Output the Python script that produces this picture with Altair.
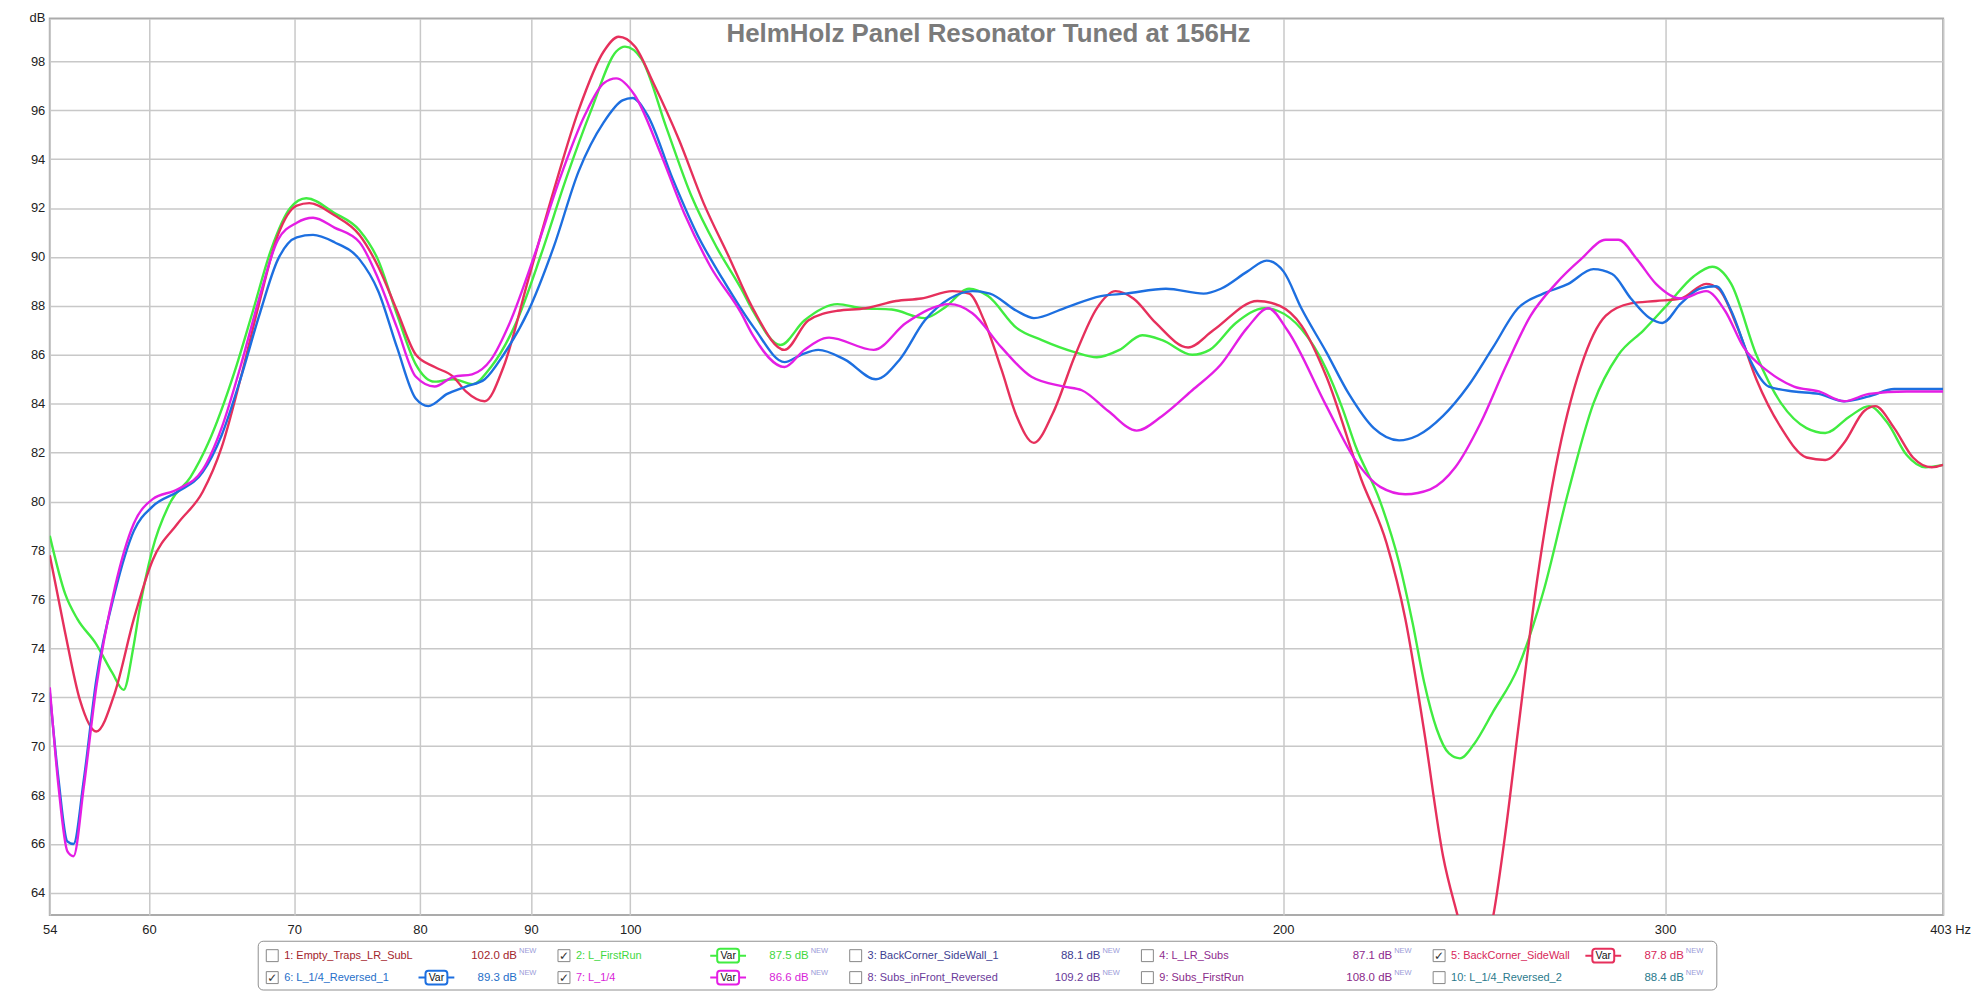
import altair as alt
import pandas as pd

TITLE = "HelmHolz Panel Resonator Tuned at 156Hz"
x_ticks = [54, 60, 70, 80, 90, 100, 200, 300, 403]
y_ticks = list(range(64, 100, 2))

series_names = ["2: L_FirstRun", "5: BackCorner_SideWall", "6: L_1/4_Reversed_1", "7: L_1/4"]
series_colors = ["#41ec41", "#e6305c", "#1d6fe0", "#e41ee4"]

# (Hz, dB) readings per measurement
green = [(54.0, 78.6), (54.9, 76.2), (55.6, 75.2), (56.7, 74.2), (57.7, 73.0), (58.4, 72.3), (59.0, 74.0),
         (59.4, 75.6), (60.2, 78.0), (61.4, 80.0), (62.7, 81.0), (63.9, 82.4), (65.7, 85.3), (67.0, 87.8),
         (68.3, 90.3), (69.7, 92.0), (70.9, 92.4), (73.05, 91.8), (75.0, 91.1), (76.5, 89.9), (78.1, 87.6),
         (79.65, 85.6), (81.25, 84.9), (82.9, 85.0), (84.55, 84.8), (86.26, 85.5), (88.58, 87.3), (90.97, 90.1),
         (93.42, 93.2), (95.94, 96.0), (98.52, 98.4), (99.44, 98.6), (101.2, 98.1), (103.9, 95.3), (106.7, 92.5),
         (109.6, 90.4), (112.5, 88.7), (113.9, 87.8), (117.3, 86.4), (120.3, 87.4), (124.6, 88.07), (127.9, 87.9),
         (132.0, 87.85), (136.7, 87.5), (139.5, 87.9), (143.3, 88.7), (146.2, 88.4), (150.7, 87.1), (154.8, 86.6),
         (160.4, 86.1), (164.1, 85.9), (168.1, 86.2), (172.2, 86.8), (175.9, 86.6), (181.6, 86.0), (185.0, 86.2),
         (190.2, 87.3), (196.1, 87.9), (198.8, 87.8), (203.9, 87.05), (209.4, 85.4), (213.0, 83.8), (215.9, 82.3),
         (221.7, 80.0), (226.2, 77.5), (229.5, 75.0), (232.3, 72.6), (235.4, 70.7), (238.5, 69.7), (241.3, 69.5),
         (245.0, 70.1), (249.9, 71.4), (256.6, 73.2), (263.6, 76.3), (270.7, 80.4), (278.0, 84.0), (285.5, 86.0),
         (293.2, 87.0), (301.1, 88.1), (309.2, 89.2), (315.4, 89.6), (321.8, 88.9), (330.5, 86.0), (339.4, 84.0),
         (348.6, 83.0), (355.6, 82.8), (365.2, 83.5), (372.5, 83.9), (380.0, 83.2), (387.7, 81.9), (395.5, 81.4),
         (403.0, 81.5)]

red = [(54.0, 77.8), (54.87, 74.7), (55.75, 71.9), (56.73, 70.6), (57.87, 72.2), (59.04, 75.2), (60.23, 77.6),
       (61.85, 79.1), (63.52, 80.4), (64.8, 82.2), (66.11, 85.0), (67.44, 88.1), (68.8, 90.9), (70.19, 92.1),
       (71.13, 92.2), (73.05, 91.7), (75.02, 90.9), (76.53, 89.6), (78.07, 87.8), (79.65, 86.0), (81.25, 85.5),
       (82.88, 85.1), (83.99, 84.5), (85.69, 84.1), (87.41, 85.5), (89.76, 89.1), (92.19, 92.7), (94.67, 96.0),
       (97.22, 98.4), (98.78, 99.0), (100.5, 98.6), (102.5, 97.1), (105.3, 94.8), (108.1, 92.2), (111.05, 90.0),
       (113.9, 87.9), (117.8, 86.2), (120.8, 87.4), (124.6, 87.8), (128.4, 87.9), (132.6, 88.2), (136.2, 88.3),
       (140.8, 88.6), (143.3, 88.5), (145.6, 87.4), (148.3, 85.4), (150.7, 83.5), (153.5, 82.4), (156.6, 83.6),
       (160.4, 86.0), (164.1, 87.9), (167.4, 88.6), (170.6, 88.3), (174.7, 87.3), (180.8, 86.3), (185.7, 87.0),
       (194.6, 88.2), (199.3, 88.0), (203.9, 87.2), (209.4, 85.1), (217.3, 80.9), (223.2, 78.3), (227.7, 75.2),
       (232.3, 70.6), (237.0, 65.5), (240.8, 63.0), (245.0, 60.5), (249.9, 63.0), (253.25, 66.5), (256.6, 70.6),
       (261.8, 76.7), (267.1, 81.4), (274.3, 85.5), (281.7, 87.6), (289.3, 88.1), (297.1, 88.2), (305.1, 88.3),
       (313.35, 88.9), (317.5, 88.7), (324.0, 87.1), (330.5, 85.0), (339.4, 83.0), (348.6, 81.8), (355.6, 81.7),
       (362.8, 82.4), (370.6, 83.7), (375.0, 83.9), (382.6, 83.0), (390.3, 81.8), (398.1, 81.4), (403.0, 81.5)]

blue = [(54.0, 72.2), (54.51, 68.6), (55.02, 66.1), (55.38, 66.0), (55.98, 68.6), (56.73, 72.7), (57.87, 76.3),
        (59.04, 78.8), (60.23, 79.8), (61.85, 80.4), (63.52, 81.2), (64.8, 82.7), (66.11, 85.0), (67.44, 87.6),
        (68.8, 89.9), (70.19, 90.8), (71.41, 90.9), (73.05, 90.6), (75.02, 89.9), (76.53, 88.6), (78.07, 86.3),
        (79.65, 84.2), (80.71, 83.9), (82.34, 84.4), (83.99, 84.7), (85.69, 85.0), (87.41, 86.0), (89.76, 87.8),
        (92.19, 90.4), (94.67, 93.5), (97.22, 95.5), (99.18, 96.4), (100.24, 96.5), (101.85, 95.8), (104.6, 93.2),
        (107.4, 90.9), (110.3, 89.1), (114.05, 87.1), (117.8, 85.7), (119.9, 86.0), (122.1, 86.2), (125.6, 85.8),
        (129.8, 85.0), (133.1, 85.8), (136.7, 87.4), (140.4, 88.3), (143.8, 88.6), (146.5, 88.5), (150.7, 87.8),
        (153.5, 87.5), (158.5, 87.9), (164.8, 88.4), (169.2, 88.5), (176.6, 88.7), (183.8, 88.5), (187.2, 88.7),
        (192.5, 89.4), (196.5, 89.85), (200.1, 89.4), (203.9, 87.9), (209.4, 86.1), (214.45, 84.4), (220.2, 83.0),
        (226.2, 82.5), (230.7, 82.7), (237.0, 83.5), (243.3, 84.7), (249.9, 86.3), (256.6, 87.9), (263.6, 88.5),
        (270.7, 88.9), (278.0, 89.5), (283.6, 89.3), (289.3, 88.3), (295.1, 87.5), (299.1, 87.3), (305.1, 88.1),
        (311.3, 88.7), (316.7, 88.8), (321.8, 87.8), (328.3, 85.8), (334.9, 84.7), (344.0, 84.5), (353.2, 84.4),
        (362.8, 84.1), (372.5, 84.3), (382.6, 84.6), (403.0, 84.6)]

magenta = [(54.0, 72.4), (54.51, 68.3), (55.02, 65.7), (55.38, 65.5), (55.98, 68.3), (56.73, 72.4), (57.87, 76.5),
           (59.04, 79.1), (60.23, 80.1), (61.85, 80.5), (63.52, 81.3), (64.8, 83.0), (66.11, 85.5), (67.44, 88.3),
           (68.8, 90.7), (70.19, 91.4), (71.41, 91.6), (73.05, 91.2), (75.02, 90.6), (76.53, 89.1), (78.07, 87.1),
           (79.65, 85.1), (81.25, 84.7), (82.88, 85.1), (84.55, 85.2), (86.26, 85.8), (87.99, 87.3), (90.36, 90.1),
           (92.8, 93.2), (95.3, 95.8), (97.22, 97.1), (98.52, 97.3), (100.5, 96.6), (103.2, 94.3), (106.0, 91.7),
           (108.9, 89.6), (112.5, 87.7), (113.9, 86.8), (117.8, 85.5), (120.3, 86.2), (123.5, 86.7), (129.5, 86.2),
           (134.0, 87.3), (140.4, 88.07), (143.8, 87.7), (148.3, 86.3), (153.1, 85.1), (158.5, 84.7), (161.5, 84.55),
           (166.1, 83.7), (171.2, 82.9), (175.9, 83.5), (181.6, 84.55), (187.2, 85.6), (192.5, 87.1), (196.9, 87.9),
           (200.9, 87.0), (209.4, 83.9), (215.9, 81.7), (221.7, 80.6), (227.7, 80.3), (233.8, 80.5), (240.1, 81.4),
           (246.6, 83.2), (253.25, 85.5), (260.1, 87.6), (267.1, 88.9), (274.3, 89.9), (281.7, 90.7), (285.5, 90.7),
           (291.2, 89.9), (297.1, 88.9), (305.1, 88.3), (313.35, 88.6), (319.7, 87.8), (326.1, 86.3), (334.9, 85.3),
           (344.0, 84.7), (353.2, 84.5), (362.8, 84.1), (372.5, 84.4), (387.7, 84.5), (403.0, 84.5)]

legend_names = ["1: Empty_Traps_LR_SubL", "2: L_FirstRun", "3: BackCorner_SideWall_1", "4: L_LR_Subs",
                "5: BackCorner_SideWall", "6: L_1/4_Reversed_1", "7: L_1/4", "8: Subs_inFront_Reversed",
                "9: Subs_FirstRun", "10: L_1/4_Reversed_2"]
legend_values = ["102.0", "87.5", "88.1", "87.1", "87.8", "89.3", "86.6", "109.2", "108.0", "88.4"]
legend_checked = [False, True, False, False, True, True, True, False, False, False]
legend_text_colors = ["#a3242c", "#3fd83f", "#3d3d90", "#8e2a8e", "#d8285a",
                      "#1f6fc9", "#d81fd8", "#6a3a9a", "#8a2a8a", "#2a7a8c"]
legend_line_colors = ["#a3242c", "#41ec41", "#3d3d90", "#8e2a8e", "#e6305c",
                      "#1d6fe0", "#e41ee4", "#6a3a9a", "#8a2a8a", "#2a7a8c"]

rows = []
for name, pts in zip(series_names, [green, red, blue, magenta]):
    for hz, db in pts:
        rows.append({"series": name, "hz": hz, "db": db})
df = pd.DataFrame(rows)

W, H = 1903, 901

lines = alt.Chart(df).mark_line(strokeWidth=2.4, interpolate="monotone", clip=True).encode(
    x=alt.X("hz:Q",
            scale=alt.Scale(type="log", domain=[54, 403], nice=False),
            axis=alt.Axis(values=x_ticks,
                          labelExpr="datum.value == 403 ? '403 Hz' : format(datum.value, 'd')",
                          labelOffset={"condition": {"test": "datum.value == 403", "value": 7}, "value": 0},
                          title=None, grid=True, ticks=False, domain=False,
                          labelPadding=9, labelFlush=False, labelOverlap=False)),
    y=alt.Y("db:Q",
            scale=alt.Scale(domain=[63.1, 99.75], nice=False, zero=False),
            axis=alt.Axis(values=y_ticks, title="dB", titleAngle=0, titleX=-5, titleY=-7,
                          titleAlign="right", titleBaseline="top", titleFontWeight="normal",
                          titleFontSize=13, titleColor="#222", titleFont="Liberation Sans",
                          grid=True, ticks=False, domain=False, labelPadding=5, labelOverlap=False)),
    color=alt.Color("series:N", scale=alt.Scale(domain=series_names, range=series_colors), legend=None),
)

title_mark = alt.Chart(pd.DataFrame({"t": [TITLE]})).mark_text(
    fontSize=26, fontWeight="bold", color="#7b7b7b", font="Liberation Sans",
    align="center", baseline="alphabetic",
).encode(text="t:N", x=alt.value(W / 2 - 8), y=alt.value(24))

main = alt.layer(lines, title_mark).properties(
    width=W, height=H,
    view=alt.ViewBackground(stroke="#ababab", strokeWidth=2, fill="white"),
)

leg = pd.DataFrame({
    "name": legend_names,
    "value": [v + " dB" for v in legend_values],
    "checked": legend_checked,
    "tcolor": legend_text_colors,
    "lcolor": legend_line_colors,
    "col": [i % 5 for i in range(len(legend_names))],
    "row": [i // 5 for i in range(len(legend_names))],
})

base = alt.Chart(leg).encode(
    x=alt.X("col:O", scale=alt.Scale(paddingInner=0, paddingOuter=0), axis=None),
    y=alt.Y("row:O", scale=alt.Scale(paddingInner=0, paddingOuter=0.11), axis=None),
)

CB = -132
boxes = base.mark_square(size=144, filled=True, fill="white", stroke="#555555", strokeWidth=1,
                         xOffset=CB, yOffset=1.5)
checks = base.transform_filter("datum.checked").mark_text(text="✓", font="DejaVu Sans", fontSize=12,
                                                          color="#333333", dx=CB, dy=1.5)
names = base.mark_text(align="left", baseline="middle", fontSize=11, font="Liberation Sans",
                       dx=CB + 12, dy=1.5).encode(text="name:N", color=alt.Color("tcolor:N", scale=None))
values = base.mark_text(align="right", baseline="middle", fontSize=11.5, font="Liberation Sans",
                        dx=CB + 246, dy=1.5).encode(text="value:N", color=alt.Color("tcolor:N", scale=None))
news = base.mark_text(align="left", baseline="middle", fontSize=7.5, font="Liberation Sans",
                      dx=CB + 248, dy=-3.5, color="#9a9ad8", text="NEW")
var_stub = base.transform_filter("datum.checked").mark_rect(width=36, height=2, xOffset=CB + 165,
                                                            yOffset=1.5).encode(
    color=alt.Color("lcolor:N", scale=None))
var_box = base.transform_filter("datum.checked").mark_rect(width=22, height=14, cornerRadius=3, fill="white",
                                                           strokeWidth=2, xOffset=CB + 165,
                                                           yOffset=1.5).encode(
    stroke=alt.Stroke("lcolor:N", scale=None))
var_text = base.transform_filter("datum.checked").mark_text(text="Var", fontSize=10.5, font="Liberation Sans",
                                                            color="#111111", dx=CB + 165, dy=1.5)

legend = alt.layer(boxes, checks, names, values, news, var_stub, var_box, var_text).properties(
    width=1466, height=49,
    view=alt.ViewBackground(stroke="#8f8f8f", strokeWidth=1, cornerRadius=5, fill="white"),
)

spacer = alt.Chart(pd.DataFrame({"t": [""]})).mark_text().encode(text="t:N").properties(
    width=209, height=49, view=alt.ViewBackground(stroke="transparent"))

bottom = alt.hconcat(spacer, legend, spacing=0, bounds="flush")

chart = alt.vconcat(main, bottom, spacing=26, bounds="flush").properties(
    padding={"left": 20, "top": 0, "right": 0, "bottom": 0},
    background="white",
).configure(font="Liberation Sans").configure_axis(
    labelFont="Liberation Sans", labelFontSize=13, labelColor="#222222",
    gridColor="#c8c8c8", gridWidth=1.5,
)

chart.save("out.html", embed_options={"renderer": "svg", "actions": False})
